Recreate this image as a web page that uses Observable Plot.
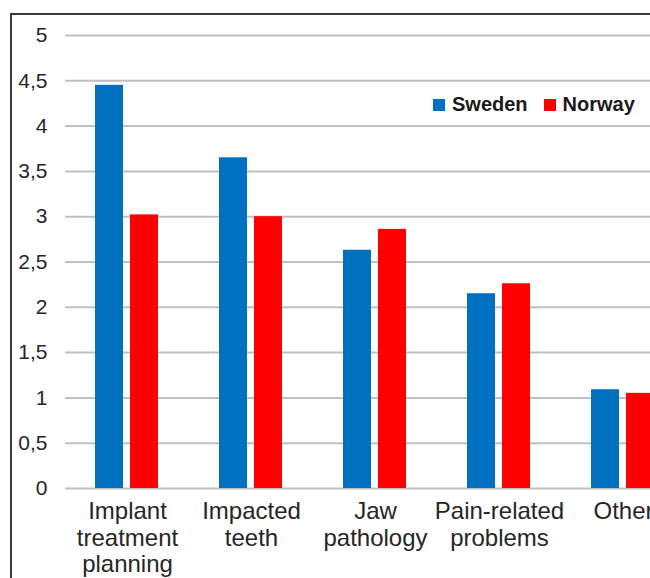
<!DOCTYPE html>
<html>
<head>
<meta charset="utf-8">
<script src="https://cdn.jsdelivr.net/npm/d3@7"></script>
<script src="https://cdn.jsdelivr.net/npm/@observablehq/plot@0.6"></script>
<style>
  html, body { margin: 0; padding: 0; background: #fff; overflow: hidden; }
  #wrap { position: relative; width: 650px; height: 578px; overflow: hidden; font-family: "Liberation Sans", Arial, sans-serif; }
  #border { position: absolute; left: 10px; top: 13px; width: 800px; height: 700px; border-top: 2px solid #3a3a3a; border-left: 2px solid #3a3a3a; }
  #chart { position: absolute; left: 0; top: 0; }
  #legend { position: absolute; left: 433px; top: 93px; display: flex; align-items: center; font-weight: bold; font-size: 20px; color: #1a1a1a; }
  .item { display: flex; align-items: center; margin-right: 16px; }
  .sw { width: 12px; height: 12px; margin-right: 7px; }
</style>
</head>
<body>
<div id="wrap">
  <div id="border"></div>
  <div id="chart"></div>
  <div id="legend"></div>
</div>
<script>
const categories = ["Implant treatment planning", "Impacted teeth", "Jaw pathology", "Pain-related problems", "Other"];
const categoryLabels = ["Implant\ntreatment\nplanning", "Impacted\nteeth", "Jaw\npathology", "Pain-related\nproblems", "Other"];
const series = ["Sweden", "Norway"];
const seriesColors = ["#0070C0", "#FF0000"];
const sweden = [4.45, 3.65, 2.63, 2.15, 1.09];
const norway = [3.02, 3.00, 2.86, 2.26, 1.05];
const yTicks = [0, 0.5, 1, 1.5, 2, 2.5, 3, 3.5, 4, 4.5, 5];
const yTickLabels = ["0", "0,5", "1", "1,5", "2", "2,5", "3", "3,5", "4", "4,5", "5"];

const data = [];
categories.forEach((c, i) => {
  data.push({category: c, series: "Sweden", value: sweden[i]});
  data.push({category: c, series: "Norway", value: norway[i]});
});
const labelOf = new Map(categories.map((c, i) => [c, categoryLabels[i]]));
const yLabelOf = new Map(yTicks.map((t, i) => [t, yTickLabels[i]]));

const chart = Plot.plot({
  width: 650,
  height: 578,
  marginTop: 35,
  marginBottom: 90,
  marginLeft: 65,
  marginRight: -35,
  style: {fontFamily: "'Liberation Sans', Arial, sans-serif", fontSize: "20px", color: "#262626", background: "transparent"},
  fx: {domain: categories, padding: 0, label: null, axis: null},
  x: {domain: series, paddingInner: 0.194, paddingOuter: 0.82, axis: null},
  y: {domain: [0, 5], axis: null},
  color: {domain: series, range: seriesColors},
  marks: [
    Plot.ruleY(yTicks, {stroke: "#c0c0c0", strokeWidth: 2}),
    Plot.barY(data, {fx: "category", x: "series", y: "value", fill: "series"}),
    Plot.axisY({ticks: yTicks, tickFormat: d => yLabelOf.get(d), tickSize: 0, tickPadding: 18, fontSize: 21, label: null, anchor: "left"}),
    Plot.axisFx({tickFormat: d => labelOf.get(d), tickSize: 0, tickPadding: 12, fontSize: 24, lineHeight: 1.1, label: null, anchor: "bottom"})
  ]
});
document.getElementById("chart").appendChild(chart);

const legend = document.getElementById("legend");
series.forEach((s, i) => {
  const item = document.createElement("div");
  item.className = "item";
  const sw = document.createElement("div");
  sw.className = "sw";
  sw.style.background = seriesColors[i];
  const t = document.createElement("span");
  t.textContent = s;
  item.appendChild(sw);
  item.appendChild(t);
  legend.appendChild(item);
});
</script>
</body>
</html>
